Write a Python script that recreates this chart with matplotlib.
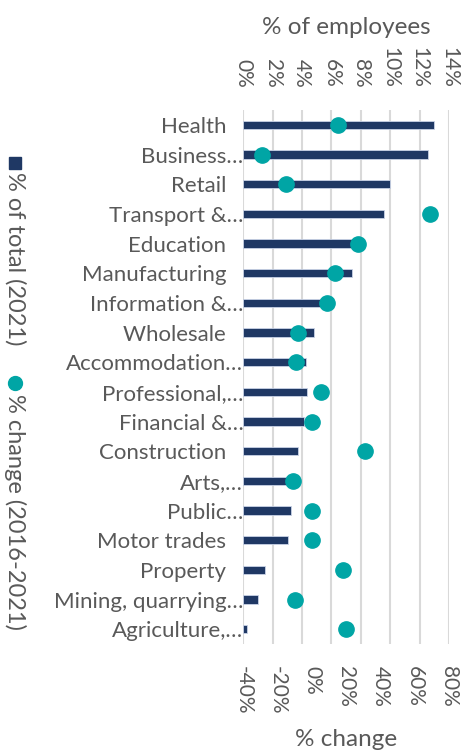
import matplotlib
matplotlib.use("Agg")
import matplotlib.pyplot as plt
from matplotlib.lines import Line2D
import numpy as np

plt.rcParams['font.family'] = ['Lato', 'DejaVu Sans']

categories = ["Health", "Business…", "Retail", "Transport &…", "Education",
              "Manufacturing", "Information &…", "Wholesale", "Accommodation…",
              "Professional,…", "Financial &…", "Construction", "Arts,…",
              "Public…", "Motor trades", "Property", "Mining, quarrying…",
              "Agriculture,…"]
share_2021 = [13.0, 12.6, 10.0, 9.6, 7.6, 7.4, 5.5, 4.8, 4.3,
              4.35, 4.1, 3.7, 3.2, 3.25, 3.05, 1.45, 1.0, 0.25]
change_2016_2021 = [15.2, -29.3, -15.1, 69.1, 26.7, 13.3, 8.8, -8.3, -9.1,
                    5.1, 0.0, 30.8, -11.2, 0.0, 0.0, 18.2, -10.0, 19.7]
top_ticks = [0, 2, 4, 6, 8, 10, 12, 14]
bottom_ticks = [-40, -20, 0, 20, 40, 60, 80]

navy = "#1F3864"
teal = "#00A5A5"
grey = "#595959"

fig = plt.figure(figsize=(4.67, 7.56), dpi=100)
ax = fig.add_axes([0.521, 0.148, 0.4405, 0.7065])
ax2 = ax.twiny()
y = np.arange(len(categories))

ax.barh(y, share_2021, height=0.28, color=navy, edgecolor="#C9D3E6", linewidth=0.6, zorder=2)
ax.set_xlim(0, 14)
ax.set_ylim(len(categories) - 0.5, -0.5)
ax.set_yticks(y)
labels = [c if c.endswith("…") else c + "   " for c in categories]
ax.set_yticklabels(labels, fontsize=16, color=grey)
ax.tick_params(axis='y', length=0, pad=0)
ax.xaxis.tick_top()
ax.xaxis.set_label_position('top')
ax.set_xticks(top_ticks)
ax.set_xticklabels([f"{t}%" for t in top_ticks], rotation=270, fontsize=15, color=grey)
ax.tick_params(axis='x', length=0, pad=16)
ax.set_xlabel("% of employees", fontsize=17.5, color=grey, labelpad=9)
ax.grid(axis='x', color="#D9D9D9", linewidth=1.5, zorder=0)
ax.set_axisbelow(True)
for s in ax.spines.values():
    s.set_visible(False)

ax2.plot(change_2016_2021, y, linestyle='none', marker='o', markersize=11,
         color=teal, zorder=3)
ax2.set_xlim(-40, 80)
ax2.set_ylim(len(categories) - 0.5, -0.5)
ax2.xaxis.tick_bottom()
ax2.xaxis.set_label_position('bottom')
ax2.set_xticks(bottom_ticks)
ax2.set_xticklabels([f"{t}%" for t in bottom_ticks], rotation=270, fontsize=15, color=grey)
ax2.tick_params(axis='x', length=0, pad=16)
ax2.set_xlabel("% change", fontsize=17.5, color=grey, labelpad=10)
for s in ax2.spines.values():
    s.set_visible(False)

# legend (rotated, on the left)
fig.add_artist(Line2D([15 / 467], [1 - 163 / 756], marker='s', markersize=8,
                      color=navy, linestyle='none', transform=fig.transFigure))
fig.text(15 / 467, 1 - 172 / 756, "% of total (2021)", rotation=270,
         ha='center', va='top', fontsize=17, color=grey)
fig.add_artist(Line2D([15 / 467], [1 - 383 / 756], marker='o', markersize=10,
                      color=teal, linestyle='none', transform=fig.transFigure))
fig.text(15 / 467, 1 - 394 / 756, "% change (2016-2021)", rotation=270,
         ha='center', va='top', fontsize=17, color=grey)

fig.savefig("out.png", dpi=100)
